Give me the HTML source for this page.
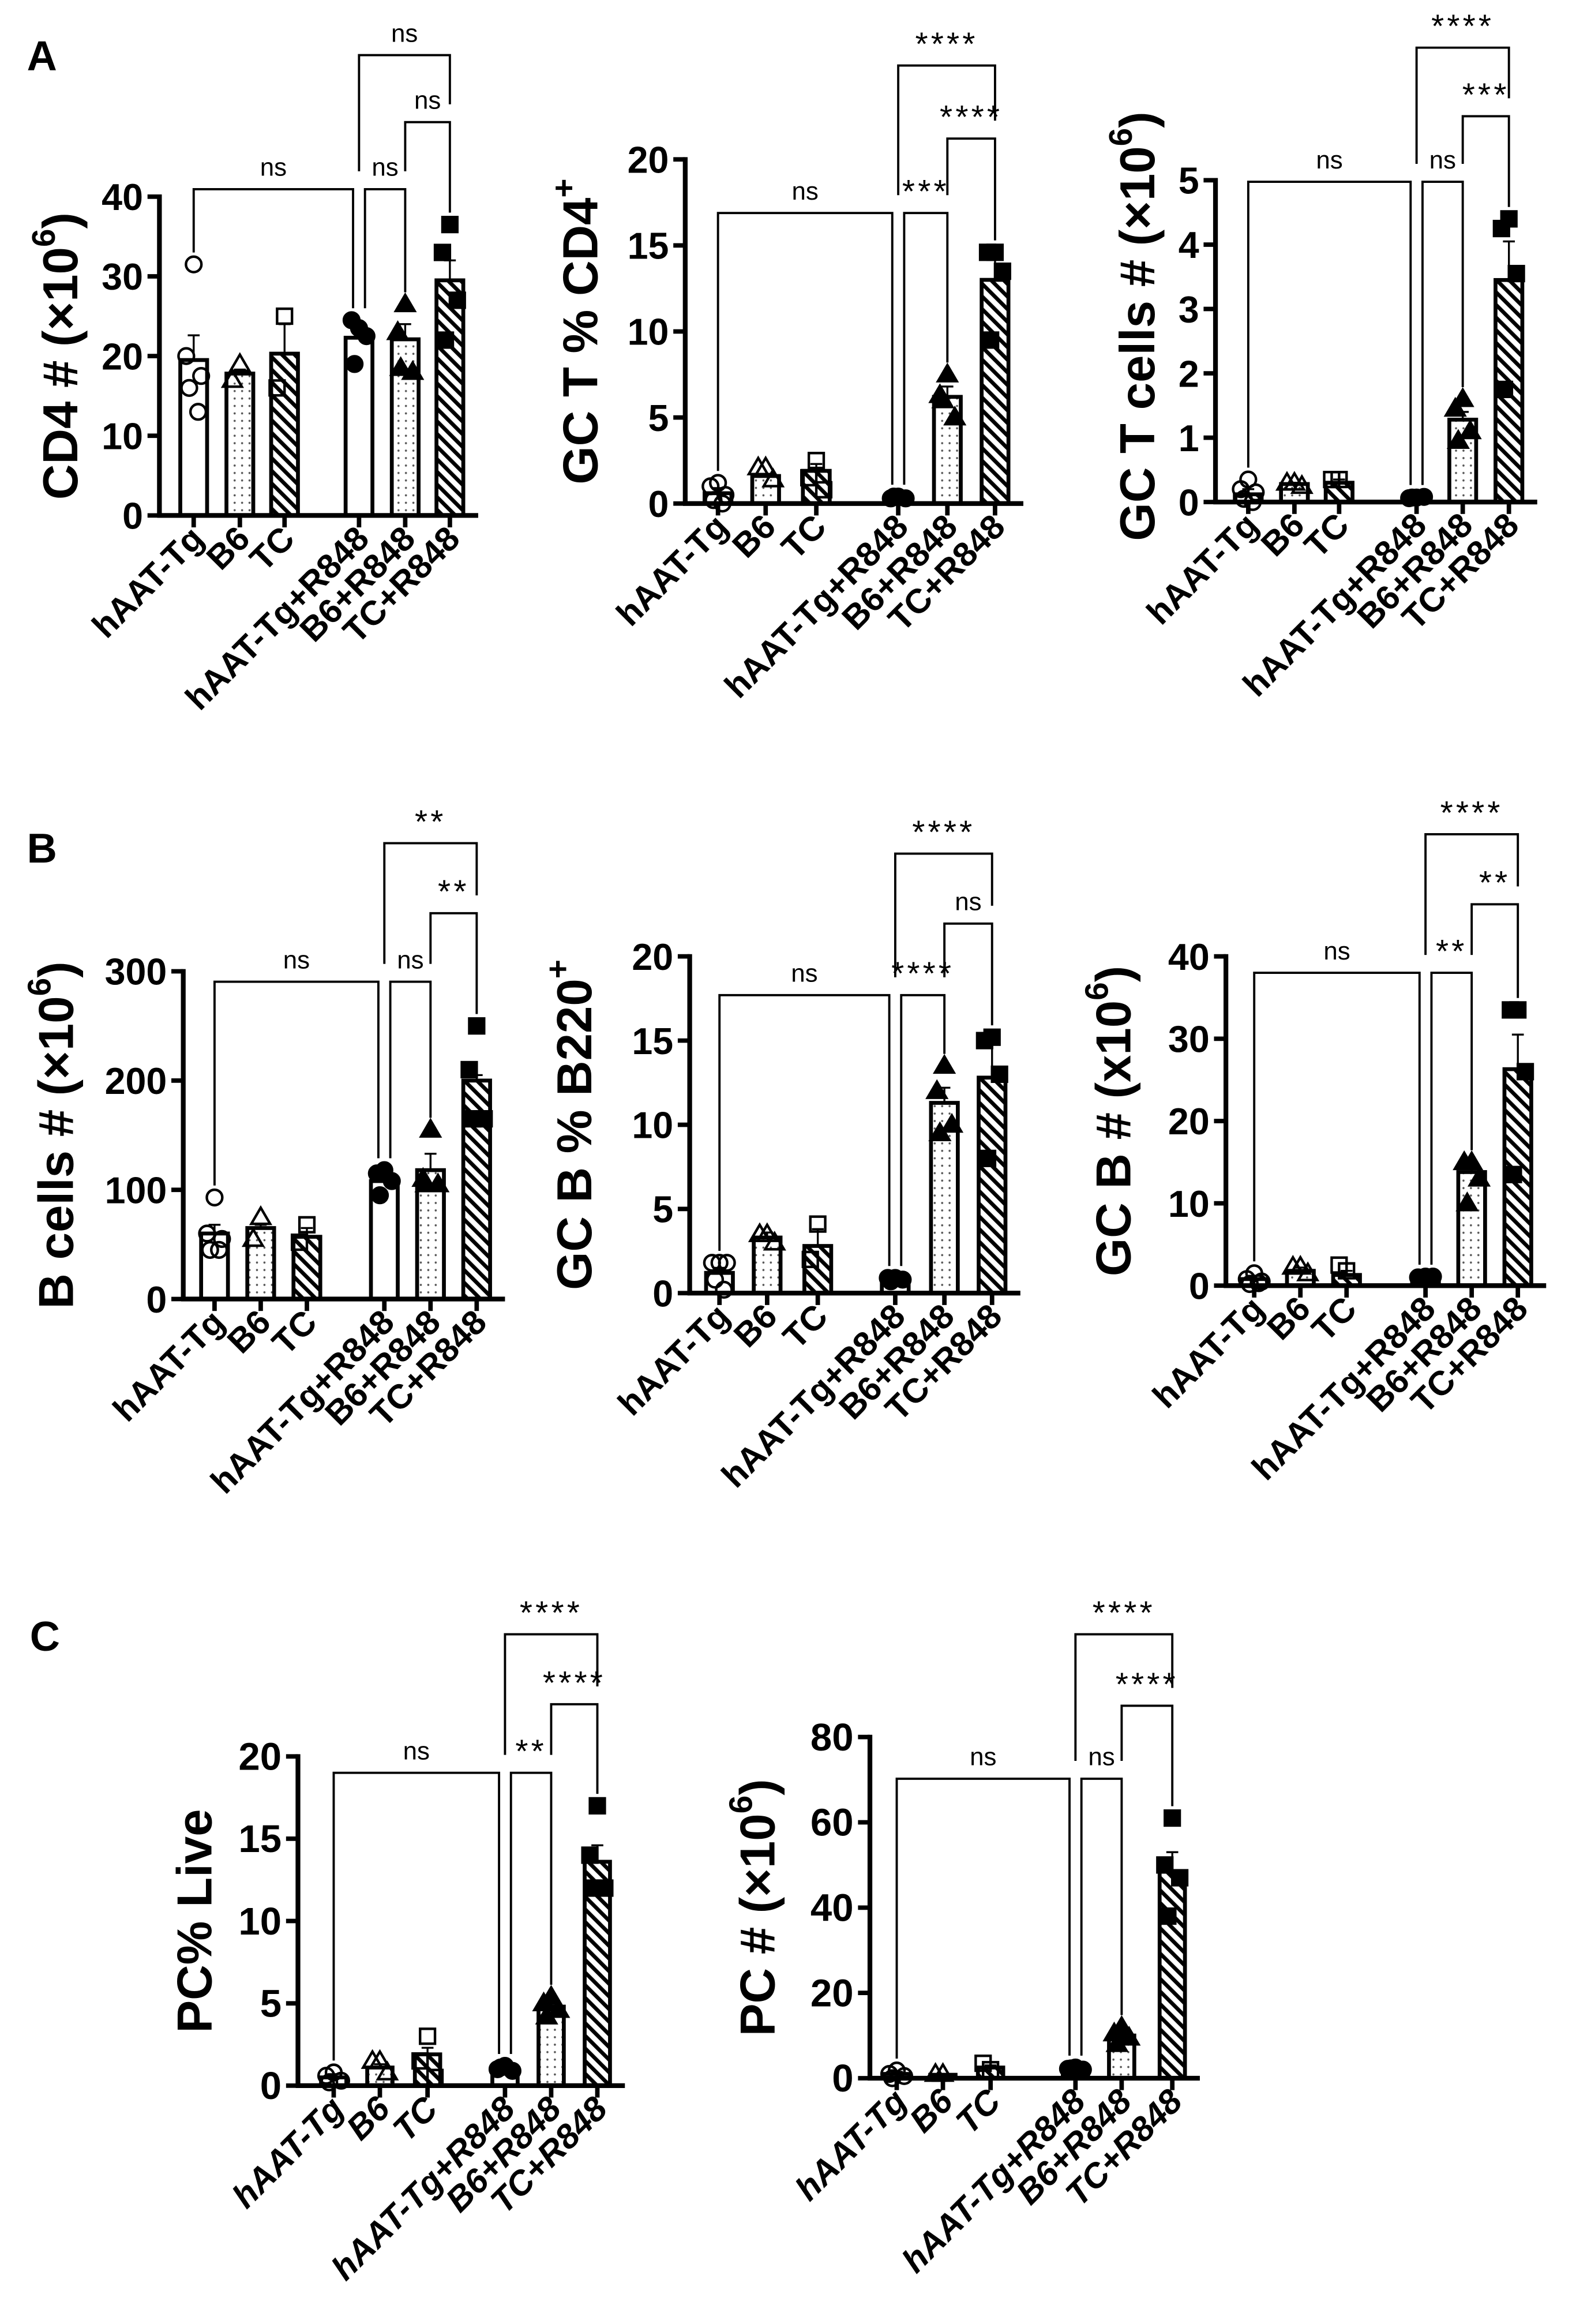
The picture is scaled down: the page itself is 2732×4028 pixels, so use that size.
<!DOCTYPE html>
<html><head><meta charset="utf-8">
<style>
html,body{margin:0;padding:0;background:#fff;}
svg{display:block;}
text{font-family:"Liberation Sans",sans-serif;fill:#000;}
</style></head>
<body>
<svg id="fig" width="2732" height="4028" viewBox="0 0 1058 1560" xmlns="http://www.w3.org/2000/svg">
<defs>
<pattern id="dots" width="5" height="5" patternUnits="userSpaceOnUse"><rect width="5" height="5" fill="#fff"/><circle cx="2.5" cy="2.5" r="0.7" fill="#555"/></pattern>
<pattern id="hatch" width="6" height="6" patternUnits="userSpaceOnUse" patternTransform="rotate(-45)"><rect width="6" height="6" fill="#fff"/><line x1="1.5" y1="0" x2="1.5" y2="6" stroke="#000" stroke-width="2.6"/></pattern>
</defs>
<text x="18" y="47" font-size="28" font-weight="bold">A</text>
<text x="18" y="579" font-size="28" font-weight="bold">B</text>
<text x="20" y="1108" font-size="28" font-weight="bold">C</text>
</svg>
<script>
const categories = ["hAAT-Tg","B6","TC","hAAT-Tg+R848","B6+R848","TC+R848"];

const a1Ticks = [0,10,20,30,40];
const a1Means = [19.5,17.8,20.3,22.3,22.1,29.5];
const a1Err = [22.6,18.3,24,23.5,24,32];
const a1Points = [[31.5,20,17.5,16,13],[19,17],[25,16],[23.5,24.5,22.5,19],[26.5,23,18,18.5],[36.5,33,27,22]];

const a2Ticks = [0,5,10,15,20];
const a2Means = [0.6,1.6,1.9,0.3,6.2,13.0];
const a2Err = [0.9,1.7,2.3,0.35,6.8,14.2];
const a2Points = [[1.2,1.0,0.5,0.2,0],[2.1,2.1,1.4],[2.5,1.5,0.8],[0.4,0.3,0.3,0.4],[7.5,6.3,5.0,6.0],[14.6,14.6,13.5,9.5]];

const a3Ticks = [0,1,2,3,4,5];
const a3Means = [0.12,0.28,0.3,0.07,1.28,3.45];
const a3Err = [0.2,0.3,0.35,0.08,1.4,4.05];
const a3Points = [[0.35,0.2,0.15,0.05,0.0],[0.3,0.3,0.25],[0.35,0.35],[0.07,0.06,0.08,0.07],[1.6,1.45,1.1,0.95],[4.4,4.25,3.55,1.75]];

const b1Ticks = [0,100,200,300];
const b1Means = [60,65,57,108,118,200];
const b1Err = [68,68,65,112,133,205];
const b1Points = [[93,60,55,45,45],[75,55],[68,52],[118,115,108,95],[155,110,105,105],[250,210,165,165]];

const b2Ticks = [0,5,10,15,20];
const b2Means = [1.2,3.3,2.8,0.8,11.3,12.8];
const b2Err = [1.5,3.6,3.8,0.9,12.2,14.8];
const b2Points = [[1.8,1.8,1.8,0.8,0.2],[3.5,3.5,3.0],[4.1,2.0],[0.9,0.9,0.8,0.7],[13.5,12,10,9.5],[15.2,15.0,13.0,8.0]];

const b3Ticks = [0,10,20,30,40];
const b3Means = [0.8,1.8,1.3,1.0,13.8,26.3];
const b3Err = [1.2,2.2,1.8,1.1,15,30.5];
const b3Points = [[1.5,0.8,0.5,0.2,0.3],[2.3,2.3,1.5],[1.8,2.5],[1.1,1.0,1.1,0.9],[15,15,13,10],[33.5,33.5,26,13.5]];

const c1Ticks = [0,5,10,15,20];
const c1Means = [0.5,1.1,1.9,1.0,4.8,13.6];
const c1Err = [0.7,1.3,2.3,1.1,5.1,14.6];
const c1Points = [[0.8,0.6,0.3,0.2],[1.5,1.5,0.8],[3.0,1.5,0.5],[1.2,1.0,0.9,1.1],[5.4,5.0,4.6,4.2],[17,14,12,12]];

const c2Ticks = [0,20,40,60,80];
const c2Means = [1.0,0.8,2.5,2.2,10,48.5];
const c2Err = [1.5,1.0,3.0,2.5,11,53];
const c2Points = [[1.8,1.0,0.5,0],[1,1],[2,3.5],[2.5,2.2,2.0,2.3],[12,10.5,9.5,8],[61,50,47,38]];

const NS = "http://www.w3.org/2000/svg";
const svg = document.getElementById("fig");
function mk(tag, attrs, parent){
  const e = document.createElementNS(NS, tag);
  for (const k in attrs) e.setAttribute(k, attrs[k]);
  (parent||svg).appendChild(e);
  return e;
}
const jit = [0,-5,5,-3,3];

function drawChart(c){
  const g = mk("g", {});
  
  
  const max = c.ticks[c.ticks.length-1];
  const Y = v => c.y0 - v / max * (c.y0 - c.yTop);
  const ff = c.narrow ? '"Liberation Sans Narrow","Liberation Sans",sans-serif' : '"Liberation Sans",sans-serif';
  const bw = c.bw || 18;
  c.means.forEach((m,i)=>{
    const fill = (i%3===0) ? "#fff" : (i%3===1 ? "url(#dots)" : "url(#hatch)");
    const r = mk("rect", {x:c.bars[i]-bw/2, y:Y(m), width:bw, height:c.y0-Y(m), fill:fill, stroke:"#000","stroke-width":2.6}, g);
    
    
  });
  c.errs.forEach((e,i)=>{
    const x = c.bars[i];
    const p = mk("path", {d:`M${x},${Y(c.means[i])}V${Y(e)}M${x-4},${Y(e)}H${x+4}`, stroke:"#000","stroke-width":1.3, fill:"none"}, g);
    
    
  });
  c.points.forEach((arr,i)=>{
    const filled = i>=3;
    arr.forEach((v,k)=>{
      const x = c.bars[i] + jit[k%jit.length];
      const y = Y(v);
      let m;
      const st = {fill: filled?"#000":"none", stroke:"#000", "stroke-width":1.7};
      if (i%3===0) m = mk("circle", Object.assign({cx:x, cy:y, r:5.2}, st), g);
      else if (i%3===1) m = mk("path", Object.assign({d:`M${x},${y-6.3}L${x+6.3},${y+4.5}L${x-6.3},${y+4.5}Z`}, st), g);
      else m = mk("rect", Object.assign({x:x-5, y:y-5, width:10, height:10}, st), g);
      
      
    });
  });
  const lastX = c.bars[5] + bw/2 + 10;
  const ya = mk("line", {x1:c.axisX, y1:c.yTop-1.5, x2:c.axisX, y2:c.y0, stroke:"#000","stroke-width":3.2}, g);
  
  
  const xa = mk("line", {x1:c.axisX-1.5, y1:c.y0, x2:lastX, y2:c.y0, stroke:"#000","stroke-width":3.2}, g);
  
  
  c.ticks.forEach(t=>{
    const tl = mk("line", {x1:c.axisX-8, y1:Y(t), x2:c.axisX, y2:Y(t), stroke:"#000","stroke-width":3}, g);
    
    
    const tx = mk("text", {x:c.axisX-11, y:Y(t)+9, "font-size":c.narrow?26:25, "font-weight":"bold", "text-anchor":"end", "font-family":ff}, g);
    tx.textContent = t;
    
    
  });
  c.bars.forEach((x,i)=>{
    const tk = mk("line", {x1:x, y1:c.y0, x2:x, y2:c.y0+8, stroke:"#000","stroke-width":3}, g);
    
    
    const lx = x + 8, ly = c.y0 + 17;
    const t = mk("text", {x:lx, y:ly, "font-size":23, "font-weight":"bold", "text-anchor":"end", transform:`rotate(-45 ${lx} ${ly})`, "font-family":ff, "font-style":c.narrow?"italic":"normal"}, g);
    t.textContent = categories[i];
    
    
  });
  const ty = (c.y0 + c.yTop)/2 + (c.titleDy||0);
  const tt = mk("text", {x:c.titleX, y:ty, "font-size":33, "font-weight":"bold", "text-anchor":"middle", transform:`rotate(-90 ${c.titleX} ${ty})`, "dominant-baseline":"middle"}, g);
  
  
  const s1 = mk("tspan", {}, tt); s1.textContent = c.title[0];
  if (c.title[1]) { const s2 = mk("tspan", {"baseline-shift":"super","font-size":22}, tt); s2.textContent = c.title[1]; }
  if (c.title[2]) { const s3 = mk("tspan", {}, tt); s3.textContent = c.title[2]; }
  const dataTop = i => Math.min(Y(c.errs[i]), ...c.points[i].map(Y));
  c.brackets.forEach((b,bi)=>{
    const [i,j,lv,label] = b;
    let xl = c.bars[i], xr = c.bars[j];
    c.brackets.forEach((o,oi)=>{ if (oi!==bi && o[2]===lv){ if (o[0]===j) xr -= 4; if (o[1]===i) xl += 4; } });
    const legBottom = gi => {
      let yb = dataTop(gi) - 8;
      c.brackets.forEach(o=>{ if (o[2]>lv && o[0]<=gi && o[1]>=gi) yb = Math.min(yb, o[2]-12); });
      return yb;
    };
    const p = mk("path", {d:`M${xl},${legBottom(i)}V${lv}H${xr}V${legBottom(j)}`, stroke:"#000","stroke-width":1.5, fill:"none"}, g);
    
    
    const isNs = label === "ns";
    const tx = mk("text", {x:(xl+xr)/2, y:isNs?lv-9:lv-7, "font-size":isNs?17:22, "text-anchor":"middle", "letter-spacing":isNs?0:2, "font-family":ff}, g);
    tx.textContent = label;
    
    
  });
}

drawChart({id:"cd4-count", axisX:107, y0:346, yTop:132, ticks:a1Ticks, bars:[130,161,191,241,272,302], means:a1Means, errs:a1Err, points:a1Points, brackets:[[0,3,127,'ns'],[3,4,127,'ns'],[4,5,82,'ns'],[3,5,37,'ns']], titleX:43, title:["CD4 # (\u00d710","6",")"]});
drawChart({id:"gc-t-percent", axisX:460, y0:338, yTop:107, ticks:a2Ticks, bars:[482,514,548,603,636,668], means:a2Means, errs:a2Err, points:a2Points, brackets:[[0,3,143,'ns'],[3,4,143,'***'],[4,5,93,'****'],[3,5,44,'****']], titleX:392, title:["GC T % CD4","+",""]});
drawChart({id:"gc-t-count", axisX:816, y0:337, yTop:121, ticks:a3Ticks, bars:[838,869,899,951,982,1013], means:a3Means, errs:a3Err, points:a3Points, brackets:[[0,3,122,'ns'],[3,4,122,'ns'],[4,5,78,'***'],[3,5,32,'****']], titleX:766, titleDy:-10, title:["GC T cells # (\u00d710","6",")"]});
drawChart({id:"b-cell-count", axisX:123, y0:872, yTop:652, ticks:b1Ticks, bars:[144,175,206,258,289,320], means:b1Means, errs:b1Err, points:b1Points, brackets:[[0,3,659,'ns'],[3,4,659,'ns'],[4,5,613,'**'],[3,5,566,'**']], titleX:40, title:["B cells # (\u00d710","6",")"]});
drawChart({id:"gc-b-percent", axisX:463, y0:868, yTop:642, ticks:b2Ticks, bars:[483,515,549,601,634,666], means:b2Means, errs:b2Err, points:b2Points, brackets:[[0,3,668,'ns'],[3,4,668,'****'],[4,5,620,'ns'],[3,5,573,'****']], titleX:388, title:["GC B % B220","+",""]});
drawChart({id:"gc-b-count", axisX:823, y0:863, yTop:642, ticks:b3Ticks, bars:[842,873,904,957,988,1019], means:b3Means, errs:b3Err, points:b3Points, brackets:[[0,3,653,'ns'],[3,4,653,'**'],[4,5,607,'**'],[3,5,560,'****']], titleX:750, title:["GC B # (x10","6",")"]});
drawChart({id:"pc-percent", axisX:200, y0:1400, yTop:1179, ticks:c1Ticks, bars:[224,255,287,339,370,401], means:c1Means, errs:c1Err, points:c1Points, brackets:[[0,3,1190,'ns'],[3,4,1190,'**'],[4,5,1144,'****'],[3,5,1097,'****']], titleX:133, narrow:true, bw:17, title:["PC% Live","",""]});
drawChart({id:"pc-count", axisX:584, y0:1395, yTop:1166, ticks:c2Ticks, bars:[602,633,665,722,753,787], means:c2Means, errs:c2Err, points:c2Points, brackets:[[0,3,1194,'ns'],[3,4,1194,'ns'],[4,5,1145,'****'],[3,5,1097,'****']], titleX:511, narrow:true, bw:17, title:["PC # (\u00d710","6",")"]});
</script>
</body></html>
